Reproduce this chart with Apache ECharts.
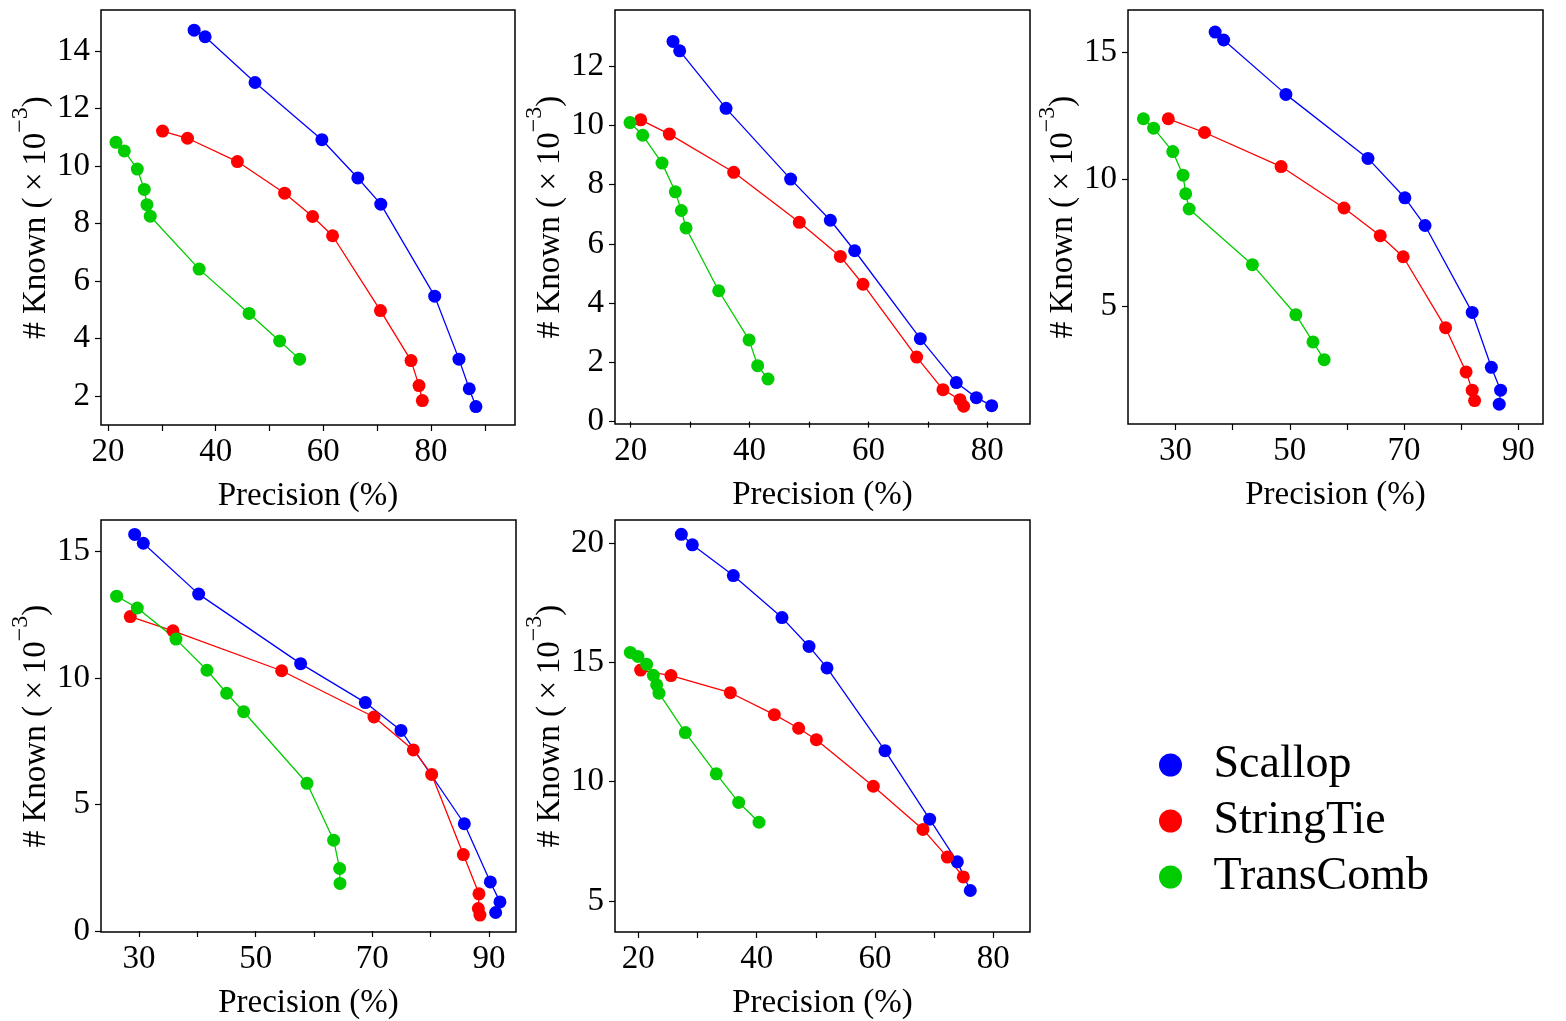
<!DOCTYPE html>
<html><head><meta charset="utf-8">
<script src="https://cdn.jsdelivr.net/npm/echarts@6/dist/echarts.min.js"></script>
<style>html,body{margin:0;padding:0;background:#fff}#c{width:1566px;height:1021px}</style>
</head><body><div id="c"></div>
<script>
const seriesNames = ['Scallop', 'StringTie', 'TransComb'];
const seriesColors = ['#0000ff', '#ff0000', '#00cc00'];

// Panel 1
const p1Scallop   = [[36.0,14.73],[38.04,14.50],[47.31,12.91],[59.73,10.92],[66.40,9.59],[70.67,8.68],[80.68,5.48],[85.19,3.29],[87.10,2.26],[88.34,1.64]];
const p1StringTie = [[30.13,11.22],[34.77,10.97],[44.04,10.16],[52.81,9.06],[58.00,8.25],[61.71,7.58],[70.61,4.98],[76.29,3.24],[77.77,2.37],[78.39,1.85]];
const p1TransComb = [[21.48,10.83],[23.03,10.53],[25.44,9.90],[26.74,9.19],[27.23,8.66],[27.85,8.26],[36.93,6.42],[46.20,4.88],[51.88,3.92],[55.59,3.29]];
// Panel 2
const p2Scallop   = [[27.12,12.84],[28.24,12.52],[36.04,10.58],[46.91,8.19],[53.59,6.80],[57.68,5.77],[68.73,2.80],[74.78,1.32],[78.15,0.81],[80.73,0.54]];
const p2StringTie = [[21.68,10.19],[26.50,9.71],[37.33,8.42],[48.37,6.73],[55.27,5.58],[59.08,4.64],[68.11,2.18],[72.54,1.08],[75.40,0.74],[76.02,0.52]];
const p2TransComb = [[19.89,10.10],[22.02,9.67],[25.27,8.73],[27.51,7.76],[28.52,7.13],[29.31,6.54],[34.80,4.42],[39.91,2.76],[41.36,1.89],[43.10,1.44]];
// Panel 3
const p3Scallop   = [[36.94,15.79],[38.43,15.48],[49.32,13.34],[63.68,10.82],[70.14,9.27],[73.67,8.18],[81.92,4.76],[85.27,2.60],[86.89,1.70],[86.65,1.15]];
const p3StringTie = [[28.74,12.38],[35.08,11.84],[48.48,10.50],[59.49,8.87],[65.83,7.78],[69.84,6.95],[77.26,4.16],[80.85,2.42],[81.92,1.70],[82.34,1.29]];
const p3TransComb = [[24.38,12.38],[26.17,12.01],[29.52,11.09],[31.32,10.16],[31.79,9.43],[32.39,8.83],[43.46,6.64],[51.06,4.67],[54.05,3.60],[56.02,2.90]];
// Panel 4
const p4Scallop   = [[29.26,15.68],[30.74,15.33],[40.23,13.32],[57.71,10.57],[68.80,9.03],[74.91,7.93],[85.77,4.24],[90.23,1.94],[91.88,1.15],[91.14,0.73]];
const p4StringTie = [[28.51,12.43],[35.83,11.87],[54.46,10.29],[70.28,8.46],[77.03,7.16],[80.17,6.19],[85.60,3.02],[88.28,1.47],[88.17,0.89],[88.45,0.63]];
const p4TransComb = [[26.17,13.24],[29.71,12.77],[36.34,11.54],[41.66,10.31],[45.03,9.40],[47.94,8.67],[58.80,5.84],[63.37,3.59],[64.40,2.47],[64.46,1.88]];
// Panel 5
const p5Scallop   = [[27.27,20.37],[29.13,19.93],[36.06,18.64],[44.28,16.88],[48.85,15.67],[51.89,14.77],[61.69,11.30],[69.24,8.43],[73.92,6.64],[76.11,5.44]];
const p5StringTie = [[20.39,14.68],[25.52,14.45],[35.55,13.73],[42.99,12.81],[47.10,12.24],[50.09,11.76],[59.72,9.81],[68.11,8.00],[72.23,6.84],[74.93,6.01]];
const p5TransComb = [[18.65,15.42],[19.94,15.25],[21.41,14.92],[22.54,14.46],[23.10,14.06],[23.49,13.71],[27.94,12.06],[33.18,10.33],[36.96,9.13],[40.40,8.30]];

// Tick values
const p1XTicks = [20,30,40,50,60,70,80,90], p1XLabels = [20,40,60,80], p1YTicks = [2,4,6,8,10,12,14];
const p2XTicks = [20,30,40,50,60,70,80],    p2XLabels = [20,40,60,80], p2YTicks = [0,2,4,6,8,10,12];
const p3XTicks = [30,40,50,60,70,80,90],    p3XLabels = [30,50,70,90], p3YTicks = [5,10,15];
const p4XTicks = [30,40,50,60,70,80,90],    p4XLabels = [30,50,70,90], p4YTicks = [0,5,10,15];
const p5XTicks = [20,30,40,50,60,70,80],    p5XLabels = [20,40,60,80], p5YTicks = [5,10,15,20];

const xTitle = 'Precision (%)';
const yTitle = '{t|# Known (\u2009×\u200910}{s|−3}{t|)}';

const panels = [
  {data:[p1Scallop,p1StringTie,p1TransComb], xt:p1XTicks, xl:p1XLabels, yt:p1YTicks, xr:[18.7,95.6], yr:[1.0,15.43], g:{left:101,top:10,width:414,height:415}},
  {data:[p2Scallop,p2StringTie,p2TransComb], xt:p2XTicks, xl:p2XLabels, yt:p2YTicks, xr:[17.36,87.18], yr:[-0.08,13.9], g:{left:615,top:10,width:415,height:414}},
  {data:[p3Scallop,p3StringTie,p3TransComb], xt:p3XTicks, xl:p3XLabels, yt:p3YTicks, xr:[21.69,94.31], yr:[0.37,16.66], g:{left:1128,top:10,width:415,height:414}},
  {data:[p4Scallop,p4StringTie,p4TransComb], xt:p4XTicks, xl:p4XLabels, yt:p4YTicks, xr:[23.49,94.63], yr:[-0.04,16.25], g:{left:101,top:520,width:415,height:414}},
  {data:[p5Scallop,p5StringTie,p5TransComb], xt:p5XTicks, xl:p5XLabels, yt:p5YTicks, xr:[16.06,86.2], yr:[3.70,20.97], g:{left:615,top:520,width:415,height:415}}
];

const FONT = 'Liberation Serif';
const grid = [], xAxis = [], yAxis = [], series = [];
panels.forEach((p, i) => {
  grid.push(Object.assign({show:true, borderColor:'#000', borderWidth:1.5, backgroundColor:'#fff', containLabel:false}, p.g));
  xAxis.push({
    type:'value', gridIndex:i, min:p.xr[0], max:p.xr[1],
    name:xTitle, nameLocation:'middle', nameGap:55,
    nameTextStyle:{fontFamily:FONT, fontSize:33, color:'#000'},
    axisLine:{show:false}, splitLine:{show:false},
    axisTick:{show:true, length:6, lineStyle:{color:'#000', width:1.2}, customValues:p.xt},
    axisLabel:{fontFamily:FONT, fontSize:33, color:'#000', margin:11, customValues:p.xl}
  });
  yAxis.push({
    type:'value', gridIndex:i, min:p.yr[0], max:p.yr[1],
    name:yTitle, nameLocation:'middle', nameGap:46, nameRotate:90,
    nameTextStyle:{rich:{
      t:{fontFamily:FONT, fontSize:33, color:'#000', lineHeight:44, verticalAlign:'bottom'},
      s:{fontFamily:FONT, fontSize:24, color:'#000', lineHeight:44, verticalAlign:'top'}
    }},
    axisLine:{show:false}, splitLine:{show:false},
    axisTick:{show:true, length:6, lineStyle:{color:'#000', width:1.2}, customValues:p.yt},
    axisLabel:{fontFamily:FONT, fontSize:33, color:'#000', margin:11, customValues:p.yt}
  });
  p.data.forEach((d, k) => {
    series.push({
      type:'line', name:seriesNames[k], xAxisIndex:i, yAxisIndex:i, data:d,
      symbol:'circle', symbolSize:13, showSymbol:true,
      itemStyle:{color:seriesColors[k]},
      lineStyle:{color:seriesColors[k], width:1.3},
      emphasis:{disabled:true}, animation:false
    });
  });
});

const chart = echarts.init(document.getElementById('c'), null, {renderer:'canvas'});
chart.setOption({
  backgroundColor:'#fff',
  animation:false,
  grid, xAxis, yAxis, series,
  legend:{
    data:seriesNames, orient:'vertical', left:1154, top:737,
    icon:'circle', itemWidth:76, itemHeight:23, itemGap:10,
    textStyle:{fontFamily:FONT, fontSize:46, color:'#000'},
    selectedMode:false
  }
});
</script></body></html>
